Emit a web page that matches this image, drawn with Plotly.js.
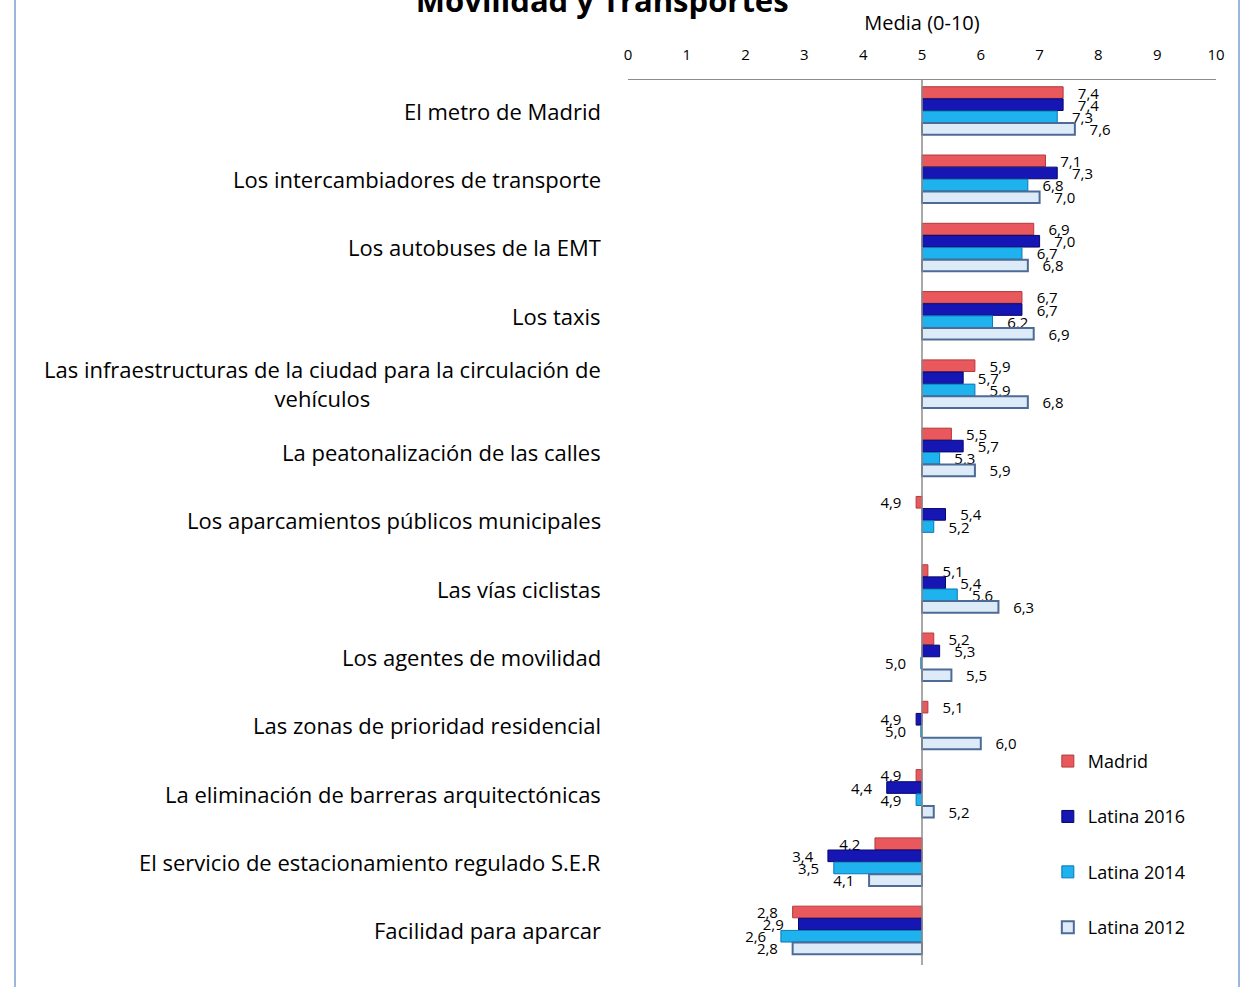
<!DOCTYPE html>
<html>
<head>
<meta charset="utf-8">
<script src="https://cdn.plot.ly/plotly-3.0.1.min.js"></script>
<style>
  html, body { margin: 0; padding: 0; background: #fff; }
  #wrap { position: relative; width: 1243px; height: 987px; overflow: hidden; }
  #chart { width: 1243px; height: 987px; }
  .vb { position: absolute; top: 0; width: 2px; height: 987px; background: #9cb6dc; }
</style>
</head>
<body>
<div id="wrap">
  <div id="chart"></div>
  <div class="vb" style="left:14px"></div>
  <div class="vb" style="left:1238px"></div>
</div>
<script>
const categories = [
  "El metro de Madrid",
  "Los intercambiadores de transporte",
  "Los autobuses de la EMT",
  "Los taxis",
  "Las infraestructuras de la ciudad para la circulación de<br>vehículos",
  "La peatonalización de las calles",
  "Los aparcamientos públicos municipales",
  "Las vías ciclistas",
  "Los agentes de movilidad",
  "Las zonas de prioridad residencial",
  "La eliminación de barreras arquitectónicas",
  "El servicio de estacionamiento regulado S.E.R",
  "Facilidad para aparcar"
];
const madrid     = [7.4, 7.1, 6.9, 6.7, 5.9, 5.5, 4.9, 5.1, 5.2, 5.1, 4.9, 4.2, 2.8];
const latina2016 = [7.4, 7.3, 7.0, 6.7, 5.7, 5.7, 5.4, 5.4, 5.3, 4.9, 4.4, 3.4, 2.9];
const latina2014 = [7.3, 6.8, 6.7, 6.2, 5.9, 5.3, 5.2, 5.6, 4.98, 4.98, 4.9, 3.5, 2.6];
const latina2012 = [7.6, 7.0, 6.8, 6.9, 6.8, 5.9, null, 6.3, 5.5, 6.0, 5.2, 4.1, 2.8];
const seriesNames = ["Madrid", "Latina 2016", "Latina 2014", "Latina 2012"];
const xTicks = [0, 1, 2, 3, 4, 5, 6, 7, 8, 9, 10];
const BASE = 5;

const FONT = "'Open Sans', sans-serif";
const series = [madrid, latina2016, latina2014, latina2012];
const styles = [
  {fill: "#e8585c", line: "#b43a3c", w: 1},
  {fill: "#1616b4", line: "#07076a", w: 1},
  {fill: "#1eb2ee", line: "#0a78b4", w: 1},
  {fill: "#ddebf8", line: "#4d6b96", w: 2}
];
const PAD = "\u00a0\u00a0\u00a0";
const fmt = v => {
  if (v == null) return "";
  const s = v.toFixed(1).replace(".", ",");
  return v >= BASE ? PAD + s : s + PAD;
};

const traces = series.map((vals, i) => ({
  type: "bar",
  orientation: "h",
  name: seriesNames[i],
  legendgroup: "g" + i,
  y: categories,
  x: vals.map(v => v == null ? null : v - BASE),
  base: BASE,
  text: vals.map(fmt),
  textposition: "outside",
  constraintext: "none",
  cliponaxis: false,
  textfont: {family: FONT, size: 15, color: "#000"},
  marker: {color: styles[i].fill, line: {color: styles[i].line, width: styles[i].w}},
  hoverinfo: "skip"
}));

const annotations = categories.map(c => ({
  text: c,
  xref: "paper", yref: "y",
  x: -0.0425, y: c,
  xanchor: "right", yanchor: "middle",
  align: "center",
  showarrow: false,
  font: {family: FONT, size: 22, color: "#000"}
}));

const layout = {
  width: 1243, height: 987,
  margin: {l: 628, r: 27, t: 80, b: 22},
  paper_bgcolor: "#fff",
  plot_bgcolor: "#fff",
  font: {family: FONT, color: "#000"},
  title: {
    text: "<b>Movilidad y Transportes</b>",
    font: {family: FONT, size: 31, color: "#000"},
    xref: "container", yref: "container",
    x: 0.4845, xanchor: "center",
    y: 0.9878, yanchor: "bottom"
  },
  barmode: "group",
  bargap: 0.29,
  bargroupgap: 0.04,
  xaxis: {
    side: "top",
    range: [0, 10],
    tickvals: xTicks,
    ticktext: xTicks.map(String),
    showgrid: false,
    zeroline: false,
    showline: true,
    linecolor: "#8c8c8c",
    linewidth: 1,
    ticks: "",
    ticklabelstandoff: 13,
    tickfont: {family: FONT, size: 15, color: "#000"},
    title: {text: "Media (0-10)", font: {family: FONT, size: 20, color: "#000"}, standoff: 8},
    fixedrange: true
  },
  yaxis: {
    type: "category",
    categoryorder: "array",
    categoryarray: categories,
    range: [12.51, -0.45],
    showticklabels: false,
    showgrid: false,
    zeroline: false,
    showline: false,
    ticks: "",
    fixedrange: true
  },
  shapes: [{
    type: "line", xref: "x", yref: "paper",
    x0: BASE, x1: BASE, y0: 0, y1: 1,
    line: {color: "#8c8c8c", width: 1.5},
    layer: "above"
  }],
  annotations: annotations,
  showlegend: true,
  legend: {
    x: 0.714, xanchor: "left",
    y: 0.251, yanchor: "top",
    bgcolor: "rgba(0,0,0,0)",
    font: {family: FONT, size: 18, color: "#000"},
    tracegroupgap: 29,
    traceorder: "grouped"
  }
};

Plotly.newPlot("chart", traces, layout, {staticPlot: true, displayModeBar: false});
</script>
</body>
</html>
